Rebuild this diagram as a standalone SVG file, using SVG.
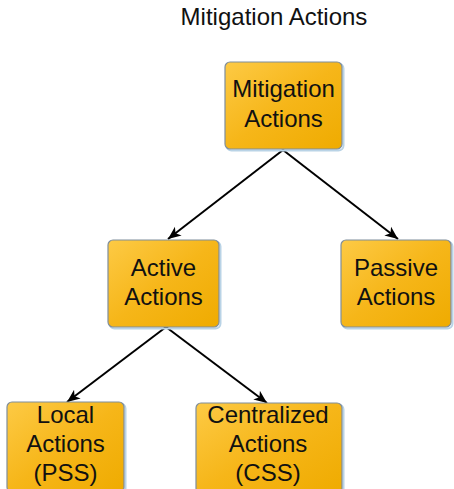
<svg xmlns="http://www.w3.org/2000/svg" width="454" height="489" viewBox="0 0 454 489">
  <defs>
    <linearGradient id="boxFill" x1="0" y1="0" x2="1" y2="1">
      <stop offset="0" stop-color="#fdca45"/>
      <stop offset="0.5" stop-color="#f6b619"/>
      <stop offset="1" stop-color="#efab00"/>
    </linearGradient>
    <marker id="arrow" markerUnits="userSpaceOnUse" markerWidth="14" markerHeight="12" refX="13" refY="6" orient="auto">
      <path d="M0,0.5 L13,6 L0,11.5 L3.5,6 z" fill="#000"/>
    </marker>
  </defs>
  <style>
    .box { fill: url(#boxFill); stroke: #7f8e9c; stroke-width: 1.2; }
    .shadow { fill: none; stroke: #b9d3e6; stroke-width: 2; }
    .label { font-family: "Liberation Sans", Arial, sans-serif; font-size: 24px; fill: #111; text-anchor: middle; }
    .title { font-family: "Liberation Sans", Arial, sans-serif; font-size: 24px; fill: #111; text-anchor: middle; }
    .edge { stroke: #000; stroke-width: 2; fill: none; marker-end: url(#arrow); }
  </style>

  <rect width="454" height="489" fill="#fff"/>

  <text class="title" x="274" y="25">Mitigation Actions</text>

  <g id="connectors">
    <line class="edge" x1="283" y1="150" x2="168" y2="239"/>
    <line class="edge" x1="283" y1="150" x2="398" y2="239"/>
    <line class="edge" x1="166" y1="327" x2="67" y2="402"/>
    <line class="edge" x1="166" y1="327" x2="267" y2="403"/>
  </g>

  <g id="mitigation">
    <rect class="shadow" x="226.5" y="63.5" width="117" height="87" rx="5"/>
    <rect class="box" x="225" y="62" width="117" height="87" rx="5"/>
    <text class="label" x="283.5" y="97">Mitigation</text>
    <text class="label" x="283.5" y="127">Actions</text>
  </g>

  <g id="active">
    <rect class="shadow" x="109.5" y="241.5" width="111" height="87" rx="5"/>
    <rect class="box" x="108" y="240" width="111" height="87" rx="5"/>
    <text class="label" x="163.5" y="276">Active</text>
    <text class="label" x="163.5" y="305">Actions</text>
  </g>

  <g id="passive">
    <rect class="shadow" x="342.5" y="241.5" width="110" height="87" rx="5"/>
    <rect class="box" x="341" y="240" width="110" height="87" rx="5"/>
    <text class="label" x="396" y="276">Passive</text>
    <text class="label" x="396" y="305">Actions</text>
  </g>

  <g id="local">
    <rect class="shadow" x="8.5" y="403.5" width="117" height="90" rx="5"/>
    <rect class="box" x="7" y="402" width="117" height="90" rx="5"/>
    <text class="label" x="65.5" y="423">Local</text>
    <text class="label" x="65.5" y="452">Actions</text>
    <text class="label" x="65.5" y="481">(PSS)</text>
  </g>

  <g id="centralized">
    <rect class="shadow" x="197.5" y="404.5" width="146" height="90" rx="5"/>
    <rect class="box" x="196" y="403" width="146" height="90" rx="5"/>
    <text class="label" x="268" y="423">Centralized</text>
    <text class="label" x="268" y="452">Actions</text>
    <text class="label" x="268" y="481">(CSS)</text>
  </g>
</svg>
